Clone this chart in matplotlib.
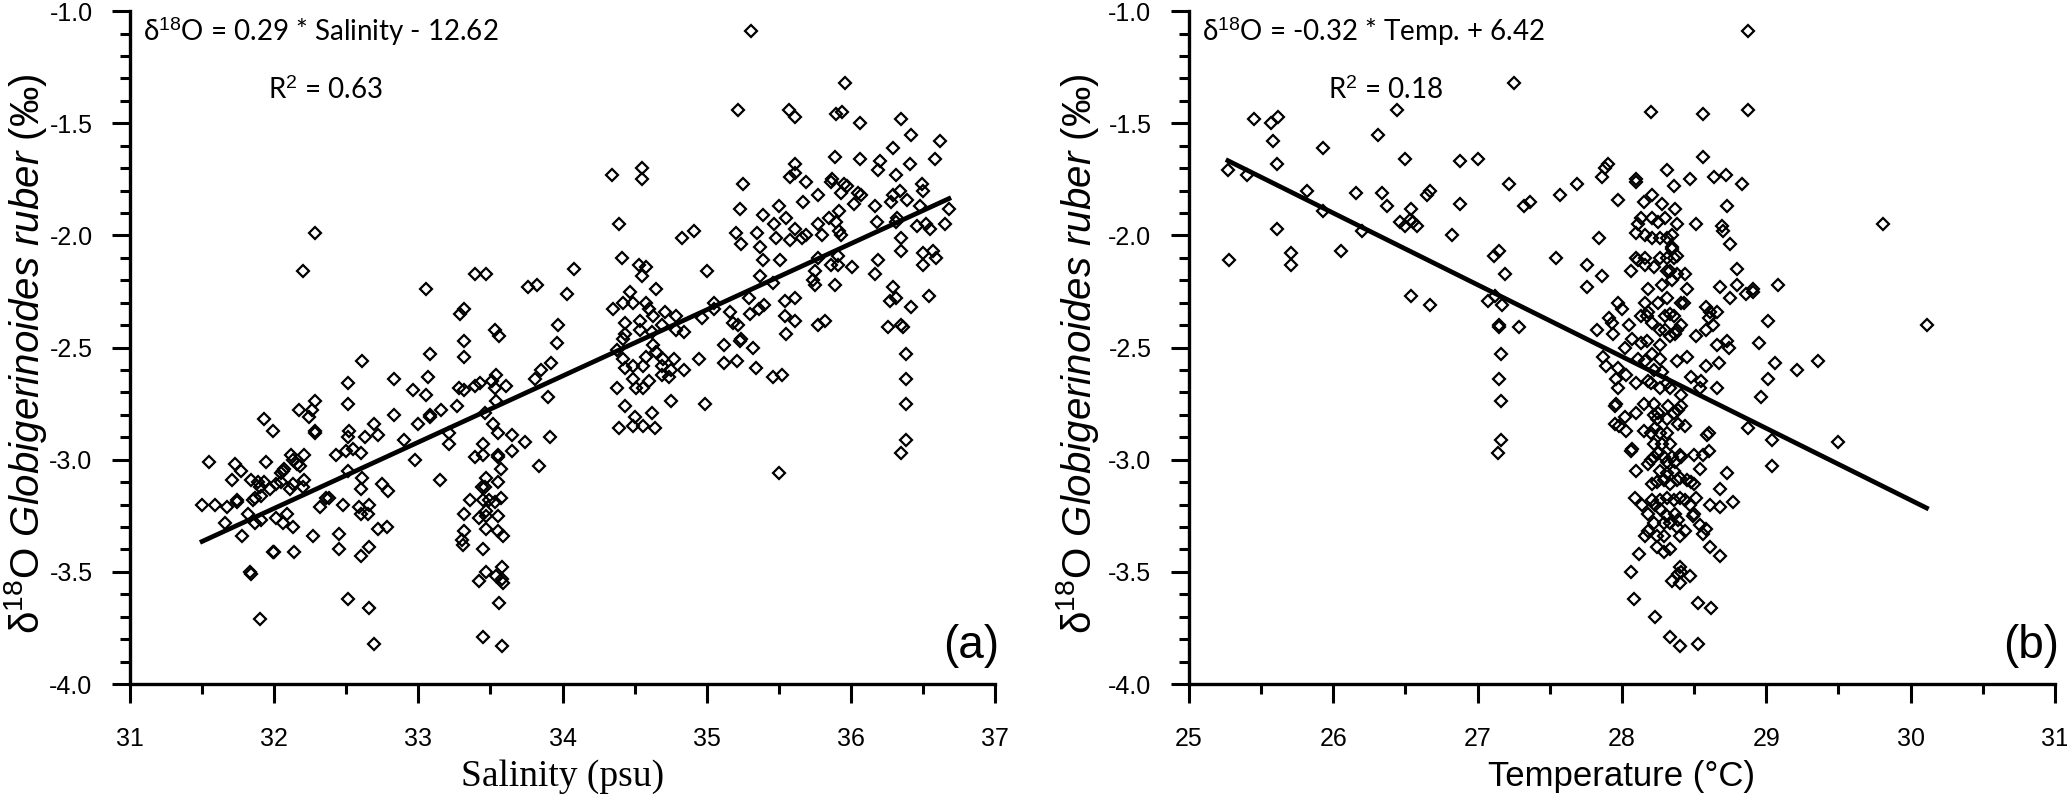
import numpy as np
import matplotlib
matplotlib.use("Agg")
import matplotlib.pyplot as plt
from matplotlib.ticker import MultipleLocator, FormatStrFormatter

plt.rcParams['font.family'] = ['Liberation Sans', 'DejaVu Sans']
plt.rcParams['mathtext.fontset'] = 'custom'
plt.rcParams['mathtext.rm'] = 'Liberation Sans'
plt.rcParams['mathtext.it'] = 'Liberation Sans:italic'

# ---- data (a): salinity vs d18O ----
salinity = [
    32.28, 32.20, 32.61,
    35.31, 35.22, 35.57, 35.61, 34.34, 34.55, 34.55, 35.25, 35.61, 35.61, 35.58, 35.23, 35.50,
    35.39, 35.55, 35.47, 35.61, 35.20, 35.24, 35.35, 35.48, 35.58, 35.37, 35.39, 35.51, 35.37,
    35.46, 35.00, 34.83, 34.91, 34.39, 34.41, 34.53, 34.58, 34.55, 34.08, 34.03, 33.39, 33.47,
    33.05, 33.76, 33.82, 33.29, 33.32, 33.53, 33.56, 33.97, 33.96, 33.32, 33.32, 33.08, 33.07,
    32.83, 32.96, 33.05, 33.28, 33.32, 33.39, 33.43, 33.51, 33.54, 33.53, 33.61, 33.81, 33.85,
    33.92, 33.90,
    34.35, 34.42, 34.49, 34.47, 34.58, 34.65, 34.60, 34.63, 34.71, 34.79, 34.54, 34.43, 34.42,
    34.54, 34.62, 34.69, 34.79, 34.84, 34.43, 34.63, 34.38, 34.42, 34.49, 34.58, 34.65, 34.70,
    34.77, 34.43, 34.56, 34.69, 34.75, 34.84, 34.49, 34.60, 34.69, 34.74, 34.56, 34.51, 34.38,
    34.95, 35.12, 35.12, 35.21, 35.22, 35.24, 35.23, 35.32, 35.34, 35.16, 35.05, 35.05, 34.97,
    35.18, 35.29, 35.30, 35.36, 35.40, 35.54, 35.61, 35.54, 35.61, 35.55, 35.46, 35.52,
    35.96, 35.90, 35.94, 36.06, 36.35, 36.42, 36.62, 36.29, 35.89, 36.06, 36.20, 36.19, 36.41,
    36.58, 36.31, 35.69, 35.87, 35.86, 35.95, 35.97, 35.93, 35.77, 35.67, 36.05, 36.07, 36.02,
    36.17, 36.29, 36.28, 36.34, 36.39, 36.49, 36.50, 36.48, 36.68, 35.92, 35.85, 35.90, 35.92,
    35.93, 35.77, 35.80, 35.66, 35.69, 36.18, 36.32, 36.31, 36.46, 36.52, 36.55, 36.65, 36.35,
    36.35, 36.50, 36.57, 36.59, 36.50, 36.19, 36.17, 36.01, 35.91, 35.91, 35.86, 35.77, 35.75,
    35.74, 35.75, 35.89, 35.77, 35.82, 36.29, 36.27, 36.31, 36.42, 36.54, 36.26, 36.35, 36.36,
    36.38, 36.38, 36.38, 36.38, 36.35,
    32.51, 32.28, 32.26, 32.17, 32.24, 32.51, 32.83, 32.69, 33.00, 31.93, 31.99, 32.28, 32.28,
    32.52, 32.51, 32.63, 32.72, 32.90, 31.55, 31.73, 31.77, 31.94, 31.71, 32.12, 32.13, 32.21,
    32.16, 32.18, 32.06, 32.07, 32.05, 32.43, 32.50, 32.55, 32.60, 32.51, 31.84, 31.89, 31.93,
    31.90, 31.97, 32.01, 32.05, 32.11, 32.13, 32.21, 32.20, 32.61, 32.60, 32.75, 32.79, 32.98,
    31.50, 31.59, 31.67, 31.74, 31.74, 31.82, 31.85, 31.87, 31.91, 31.66, 31.78, 31.87, 31.91,
    32.01, 32.06, 32.09, 32.13, 32.32, 32.36, 32.38, 32.48, 32.59, 32.66, 32.60, 32.65, 32.27,
    32.45, 32.72, 32.78, 31.99, 32.00, 32.14, 32.45, 32.60, 32.66, 31.83, 31.84, 32.51, 32.66,
    31.90, 32.69,
    33.16, 33.08, 33.08, 33.27, 33.46, 33.54, 33.52, 33.55, 33.65, 33.74, 33.65, 33.91, 33.21,
    33.21, 33.45, 33.39, 33.45, 33.55, 33.55, 33.57, 33.84, 33.15, 33.47, 33.44, 33.46, 33.55,
    33.36, 33.45, 33.49, 33.53, 33.57, 33.32, 33.42, 33.47, 33.47, 33.55, 33.32, 33.30, 33.31,
    33.47, 33.55, 33.59, 33.45, 33.58, 33.47, 33.42, 33.54, 33.58, 33.59, 33.56, 33.45, 33.58,
    34.43, 34.50, 34.62, 34.75, 34.99, 34.39, 34.49, 34.56, 34.64, 35.50,
]
d18o_a = [
    -1.99, -2.16, -2.56,
    -1.09, -1.44, -1.44, -1.47, -1.73, -1.70, -1.75, -1.77, -1.68, -1.72, -1.74, -1.88, -1.87,
    -1.91, -1.92, -1.95, -1.97, -1.99, -2.04, -1.99, -2.01, -2.02, -2.05, -2.11, -2.11, -2.18,
    -2.21, -2.16, -2.01, -1.98, -1.95, -2.10, -2.13, -2.14, -2.18, -2.15, -2.26, -2.17, -2.17,
    -2.24, -2.23, -2.22, -2.35, -2.33, -2.42, -2.45, -2.40, -2.48, -2.47, -2.54, -2.53, -2.63,
    -2.64, -2.69, -2.71, -2.68, -2.69, -2.67, -2.66, -2.65, -2.62, -2.68, -2.67, -2.64, -2.60,
    -2.57, -2.72,
    -2.33, -2.30, -2.30, -2.25, -2.30, -2.24, -2.33, -2.36, -2.34, -2.36, -2.38, -2.39, -2.46,
    -2.42, -2.43, -2.40, -2.42, -2.43, -2.44, -2.49, -2.51, -2.55, -2.58, -2.54, -2.52, -2.55,
    -2.55, -2.59, -2.58, -2.58, -2.60, -2.60, -2.64, -2.65, -2.62, -2.63, -2.68, -2.68, -2.68,
    -2.55, -2.49, -2.57, -2.56, -2.40, -2.46, -2.47, -2.50, -2.59, -2.34, -2.30, -2.33, -2.37,
    -2.39, -2.28, -2.35, -2.33, -2.31, -2.29, -2.28, -2.36, -2.38, -2.44, -2.63, -2.62,
    -1.32, -1.46, -1.45, -1.50, -1.48, -1.55, -1.58, -1.61, -1.65, -1.66, -1.67, -1.71, -1.68,
    -1.66, -1.73, -1.76, -1.75, -1.76, -1.77, -1.78, -1.81, -1.82, -1.85, -1.81, -1.82, -1.86,
    -1.87, -1.82, -1.85, -1.80, -1.84, -1.77, -1.80, -1.87, -1.88, -1.89, -1.92, -1.94, -1.98,
    -2.00, -1.95, -2.00, -2.01, -2.00, -1.94, -1.92, -1.94, -1.96, -1.95, -1.97, -1.95, -2.01,
    -2.07, -2.08, -2.07, -2.10, -2.13, -2.11, -2.17, -2.14, -2.09, -2.13, -2.13, -2.10, -2.16,
    -2.20, -2.22, -2.22, -2.40, -2.38, -2.23, -2.29, -2.28, -2.32, -2.27, -2.41, -2.40, -2.41,
    -2.53, -2.64, -2.75, -2.91, -2.97,
    -2.66, -2.74, -2.78, -2.78, -2.81, -2.75, -2.80, -2.84, -2.84, -2.82, -2.87, -2.87, -2.88,
    -2.87, -2.90, -2.90, -2.89, -2.91, -3.01, -3.02, -3.05, -3.01, -3.09, -2.98, -3.00, -2.98,
    -3.02, -3.03, -3.05, -3.04, -3.06, -2.98, -2.96, -2.95, -2.97, -3.05, -3.09, -3.10, -3.10,
    -3.12, -3.13, -3.11, -3.10, -3.13, -3.11, -3.09, -3.12, -3.08, -3.13, -3.11, -3.14, -3.00,
    -3.20, -3.20, -3.21, -3.19, -3.18, -3.24, -3.18, -3.17, -3.16, -3.28, -3.34, -3.28, -3.27,
    -3.26, -3.28, -3.24, -3.30, -3.21, -3.17, -3.17, -3.20, -3.21, -3.20, -3.24, -3.24, -3.34,
    -3.33, -3.31, -3.30, -3.41, -3.41, -3.41, -3.40, -3.43, -3.39, -3.50, -3.51, -3.62, -3.66,
    -3.71, -3.82,
    -2.78, -2.80, -2.81, -2.76, -2.79, -2.74, -2.84, -2.88, -2.89, -2.92, -2.96, -2.90, -2.88,
    -2.93, -2.93, -2.99, -2.98, -2.98, -2.99, -3.04, -3.03, -3.09, -3.08, -3.12, -3.12, -3.10,
    -3.18, -3.18, -3.18, -3.19, -3.17, -3.24, -3.26, -3.23, -3.25, -3.25, -3.32, -3.36, -3.38,
    -3.31, -3.32, -3.34, -3.40, -3.48, -3.50, -3.54, -3.52, -3.53, -3.55, -3.64, -3.79, -3.83,
    -2.76, -2.81, -2.79, -2.74, -2.75, -2.86, -2.85, -2.85, -2.86, -3.06,
]

# ---- data (b): temperature vs d18O ----
temperature = [
    27.25, 26.44, 25.45, 25.57, 25.62, 25.58, 26.31, 25.93, 25.27, 25.40, 25.61, 26.50, 26.88,
    27.00, 27.22, 27.32, 27.36, 25.82, 26.16, 26.34, 26.65, 26.67, 26.37, 26.88, 25.93, 26.54,
    26.46, 26.50, 26.53, 26.55, 26.58, 26.20, 25.61, 26.82, 25.28, 25.71, 25.71, 26.05, 27.15,
    27.11, 27.19, 26.54, 26.67, 27.07, 27.12, 27.17, 27.15, 27.15, 27.29, 27.16, 27.15, 27.16,
    27.16, 27.14,
    28.87, 28.20, 28.56, 28.87, 28.56, 28.31, 27.90, 27.88, 27.86, 28.10, 28.10, 28.36, 28.47,
    28.64, 28.72, 28.83, 27.57, 27.69, 27.97, 28.15, 28.21, 28.28, 28.37, 28.73, 28.13, 28.11,
    28.21, 28.30, 28.25, 28.38, 28.51, 28.69, 28.70, 27.84, 28.10, 28.16, 28.21, 28.26, 28.31,
    28.35, 28.75, 28.35, 28.35, 27.54, 27.76, 27.86, 27.76, 28.10, 28.16, 28.22, 28.26, 28.31,
    28.36, 28.38, 28.16, 28.11, 28.06, 28.31, 28.33, 28.38, 28.44, 28.35, 28.80, 28.18, 28.28,
    28.45, 28.68, 28.80, 28.86, 28.91, 28.91, 29.08, 28.75, 27.97, 28.00, 28.16, 28.25, 28.31,
    28.43, 28.41, 28.18, 28.17, 28.33, 28.36, 28.58, 28.61, 28.66, 28.60, 27.91, 27.93, 28.05,
    28.13, 27.83, 27.94, 28.07, 28.21, 28.26, 28.30, 28.38, 28.41, 28.33, 28.37, 28.51, 28.58,
    28.63, 29.01, 29.81, 30.11, 28.66, 28.73, 28.74, 28.95, 27.87, 27.89, 27.97, 28.02, 28.13,
    28.17, 28.26, 28.21, 28.26, 28.16, 28.11, 28.38, 28.45, 28.48, 28.55, 28.58, 28.67, 28.66,
    27.96, 27.97, 28.03, 28.10, 28.18, 28.28, 28.31, 28.33, 28.41, 28.26, 29.06, 29.21, 29.36,
    29.01, 28.96, 28.30, 28.54, 28.22, 28.20,
    27.95, 27.96, 28.02, 27.98, 27.95, 28.03, 28.10, 28.15, 28.22, 28.22, 28.25, 28.24, 28.15,
    28.20, 28.23, 28.26, 28.31, 28.33, 28.28, 28.22, 28.32, 28.36, 28.39, 28.41, 28.39, 28.44,
    28.31, 28.59, 28.60, 28.87, 29.04, 29.04, 28.06, 28.07, 28.20, 28.22, 28.25, 28.18, 28.29,
    28.31, 28.35, 28.37, 28.40, 28.41, 28.50, 28.56, 28.60, 28.54, 28.73, 28.10, 28.26, 28.31,
    28.29, 28.24, 28.36, 28.38, 28.33, 28.40, 28.45, 28.48, 28.50, 28.21, 28.68, 28.09, 28.14,
    28.21, 28.23, 28.26, 28.31, 28.36, 28.40, 28.44, 28.47, 28.51, 28.61, 28.68, 28.77, 28.18,
    28.26, 28.31, 28.37, 28.39, 28.33, 28.50, 28.49, 28.22, 28.29, 28.38, 28.44, 28.40, 28.54,
    28.58, 28.56, 28.18, 28.16, 28.24, 28.29, 28.24, 28.29, 28.33, 28.12, 28.61, 28.68, 28.06,
    28.40, 28.41, 28.39, 28.35, 28.40, 28.47, 28.08, 28.53, 28.62, 28.23, 28.33, 28.40, 28.53,
    29.50,
]
d18o_b = [
    -1.32, -1.44, -1.48, -1.50, -1.47, -1.58, -1.55, -1.61, -1.71, -1.73, -1.68, -1.66, -1.67,
    -1.66, -1.77, -1.87, -1.85, -1.80, -1.81, -1.81, -1.82, -1.80, -1.87, -1.86, -1.89, -1.88,
    -1.94, -1.96, -1.93, -1.94, -1.96, -1.98, -1.97, -2.00, -2.11, -2.08, -2.13, -2.07, -2.07,
    -2.09, -2.17, -2.27, -2.31, -2.29, -2.27, -2.31, -2.40, -2.41, -2.41, -2.53, -2.64, -2.74,
    -2.91, -2.97,
    -1.09, -1.45, -1.46, -1.44, -1.65, -1.71, -1.68, -1.70, -1.74, -1.75, -1.76, -1.78, -1.75,
    -1.74, -1.73, -1.77, -1.82, -1.77, -1.84, -1.85, -1.82, -1.86, -1.88, -1.87, -1.92, -1.95,
    -1.92, -1.92, -1.94, -1.95, -1.95, -1.96, -1.98, -2.01, -1.99, -2.00, -2.01, -2.01, -2.01,
    -2.00, -2.04, -2.05, -2.06, -2.10, -2.13, -2.18, -2.23, -2.10, -2.10, -2.14, -2.10, -2.10,
    -2.10, -2.09, -2.13, -2.11, -2.16, -2.16, -2.16, -2.17, -2.17, -2.20, -2.15, -2.24, -2.22,
    -2.24, -2.23, -2.22, -2.26, -2.25, -2.24, -2.22, -2.28, -2.30, -2.33, -2.30, -2.30, -2.28,
    -2.30, -2.30, -2.34, -2.36, -2.35, -2.36, -2.32, -2.34, -2.34, -2.37, -2.37, -2.39, -2.40,
    -2.36, -2.42, -2.44, -2.46, -2.39, -2.42, -2.42, -2.42, -2.40, -2.45, -2.44, -2.45, -2.42,
    -2.40, -2.38, -1.95, -2.40, -2.49, -2.47, -2.50, -2.48, -2.54, -2.58, -2.59, -2.50, -2.48,
    -2.47, -2.49, -2.53, -2.55, -2.56, -2.55, -2.56, -2.54, -2.63, -2.65, -2.58, -2.57, -2.68,
    -2.64, -2.68, -2.62, -2.66, -2.65, -2.61, -2.66, -2.68, -2.71, -2.68, -2.57, -2.60, -2.56,
    -2.64, -2.72, -2.36, -2.68, -2.60, -2.66,
    -2.76, -2.75, -2.81, -2.85, -2.84, -2.87, -2.79, -2.75, -2.75, -2.80, -2.79, -2.82, -2.87,
    -2.88, -2.86, -2.88, -2.88, -2.93, -2.93, -2.93, -2.76, -2.79, -2.78, -2.76, -2.84, -2.85,
    -2.82, -2.89, -2.88, -2.86, -2.91, -3.03, -2.96, -2.95, -3.00, -2.99, -2.97, -3.02, -2.99,
    -3.01, -2.99, -3.01, -2.98, -2.99, -2.98, -2.98, -2.96, -3.04, -3.06, -3.05, -3.05, -3.06,
    -3.09, -3.10, -3.05, -3.09, -3.11, -3.08, -3.09, -3.10, -3.11, -3.11, -3.13, -3.17, -3.20,
    -3.18, -3.20, -3.18, -3.17, -3.18, -3.17, -3.18, -3.20, -3.17, -3.20, -3.21, -3.19, -3.24,
    -3.22, -3.25, -3.24, -3.27, -3.28, -3.24, -3.25, -3.28, -3.28, -3.30, -3.32, -3.34, -3.29,
    -3.31, -3.33, -3.32, -3.34, -3.34, -3.34, -3.39, -3.41, -3.40, -3.42, -3.39, -3.43, -3.50,
    -3.48, -3.50, -3.51, -3.54, -3.55, -3.52, -3.62, -3.64, -3.66, -3.70, -3.79, -3.83, -3.82,
    -2.92,
]

# regression lines (slope, intercept)
fit_a = (0.2951, -12.66)
fit_b = (-0.32, 6.42)

eq_a = "δ$^{18}$O = 0.29 * Salinity - 12.62"
eq_b = "δ$^{18}$O = -0.32 * Temp. + 6.42"
r2_a = "R$^2$ = 0.63"
r2_b = "R$^2$ = 0.18"
ylabel = r"δ$^{18}$O $\mathit{Globigerinoides\ ruber}$ (‰)"

fig = plt.figure(figsize=(20.67, 8.0), dpi=100)
ax1 = fig.add_axes([0.0629, 0.145, 0.4185, 0.841])
ax2 = fig.add_axes([0.5752, 0.145, 0.419, 0.841])

panels = [
    (ax1, salinity, d18o_a, fit_a, (31, 37), eq_a, r2_a, "(a)"),
    (ax2, temperature, d18o_b, fit_b, (25, 31), eq_b, r2_b, "(b)"),
]

for ax, xs, ys, fit, xlim, eq, r2, tag in panels:
    xs = np.array(xs)
    ys = np.array(ys)
    ax.plot(xs, ys, 'D', mfc='none', mec='black', ms=6, mew=1.6, zorder=3)
    xl = np.array([xs.min(), xs.max()])
    ax.plot(xl, fit[0] * xl + fit[1], color='black', lw=3.4, zorder=4)

    ax.set_xlim(*xlim)
    ax.set_ylim(-4.0, -1.0)
    ax.xaxis.set_major_locator(MultipleLocator(1))
    ax.xaxis.set_minor_locator(MultipleLocator(0.5))
    ax.yaxis.set_major_locator(MultipleLocator(0.5))
    ax.yaxis.set_minor_locator(MultipleLocator(0.1))
    ax.yaxis.set_major_formatter(FormatStrFormatter('%.1f'))
    for side in ['top', 'right']:
        ax.spines[side].set_visible(False)
    for side in ['left', 'bottom']:
        ax.spines[side].set_linewidth(2.4)
    ax.tick_params(which='major', direction='out', width=2.2, labelsize=18)
    ax.tick_params(axis='y', which='major', length=13, pad=14)
    ax.tick_params(axis='y', which='minor', direction='out', length=7, width=2.2)
    ax.tick_params(axis='x', which='major', length=14, pad=17)
    ax.tick_params(axis='x', which='minor', direction='out', length=7, width=2.2)

    ax.set_ylabel(ylabel, fontsize=29)
    ax.text(0.015, 0.955, eq, transform=ax.transAxes, fontsize=20,
            family=['Lato', 'DejaVu Sans'], ha='left', va='baseline')
    ax.text(0.16, 0.869, r2, transform=ax.transAxes, fontsize=20,
            family=['Lato', 'DejaVu Sans'], ha='left', va='baseline')
    ax.text(1.005, 0.039, tag, transform=ax.transAxes, fontsize=33,
            ha='right', va='baseline')

ax1.set_xlabel("Salinity (psu)", fontsize=27, family='Liberation Serif')
ax2.set_xlabel("Temperature (°C)", fontsize=25)
for ax in (ax1, ax2):
    ax.xaxis.set_label_coords(0.5, -0.138)
    ax.xaxis.label.set_va('center')
ax1.yaxis.set_label_coords(-0.121, 0.49)
ax2.yaxis.set_label_coords(-0.129, 0.49)
ax1.yaxis.label.set_va('center')
ax2.yaxis.label.set_va('center')

fig.savefig("out.png", dpi=100)
